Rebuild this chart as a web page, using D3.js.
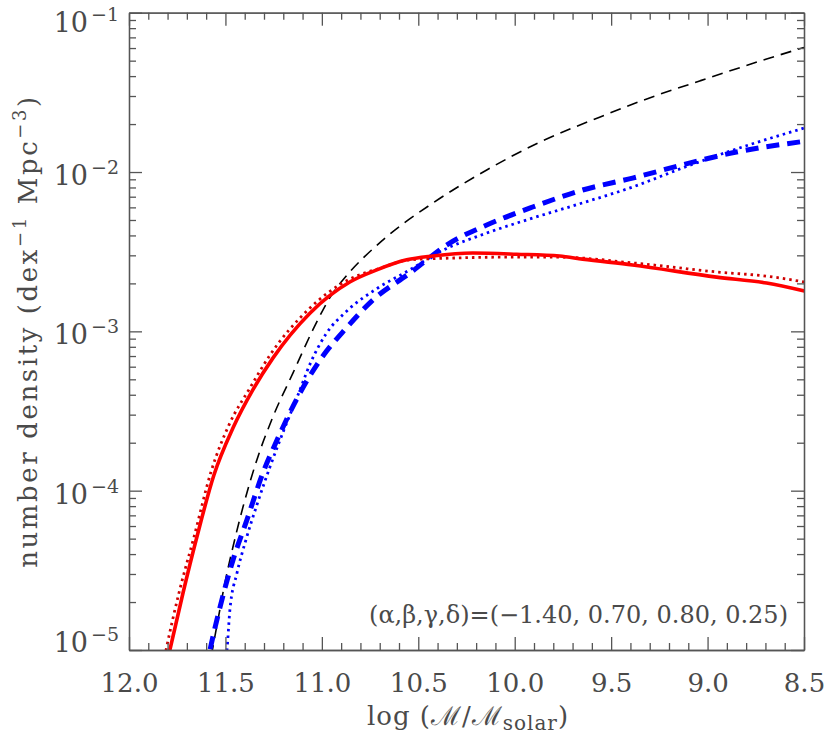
<!DOCTYPE html>
<html>
<head>
<meta charset="utf-8">
<script src="https://cdn.jsdelivr.net/npm/d3@7"></script>
<style>
  body { margin: 0; background: #fff; }
  svg text { font-family: "DejaVu Serif", serif; fill: #4a4a4a; }
</style>
</head>
<body>
<div id="chart"></div>
<script>
// stellar mass function curves
// x = log mass, y = number density (dex^-1 Mpc^-3)

const massBlack = [11.59, 11.539, 11.503, 11.461, 11.409, 11.337, 11.254, 11.150, 11.047, 10.943, 10.891, 10.684, 10.425, 10.145, 9.870, 9.560, 9.301, 9.041, 8.694, 8.50];
const densBlack = [7.1e-6, 1.54e-5, 2.63e-5, 4.43e-5, 7.89e-5, 1.56e-4, 2.90e-4, 5.47e-4, 1.02e-3, 1.74e-3, 2.10e-3, 3.74e-3, 6.38e-3, 1.03e-2, 1.54e-2, 2.21e-2, 2.92e-2, 3.73e-2, 5.12e-2, 6.05e-2];

const massRed = [11.811, 11.788, 11.720, 11.648, 11.560, 11.461, 11.358, 11.254, 11.062, 10.855, 10.715, 10.560, 10.425, 10.218, 9.990, 9.767, 9.648, 9.389, 8.953, 8.694, 8.497];
const densRed = [7.5e-6, 1.0e-5, 2.28e-5, 5.12e-5, 1.25e-4, 2.47e-4, 4.29e-4, 6.79e-4, 1.30e-3, 2.04e-3, 2.43e-3, 2.81e-3, 2.97e-3, 3.10e-3, 3.05e-3, 2.97e-3, 2.84e-3, 2.61e-3, 2.19e-3, 2.01e-3, 1.79e-3];

const massRedDot = [11.829, 11.808, 11.741, 11.663, 11.575, 11.482, 11.373, 11.269, 11.073, 10.865, 10.699, 10.544, 10.337, 10.078, 9.767, 9.389, 8.953, 8.694, 8.497];
const densRedDot = [7.5e-6, 1.0e-5, 2.28e-5, 5.12e-5, 1.31e-4, 2.58e-4, 4.41e-4, 7.10e-4, 1.36e-3, 2.10e-3, 2.49e-3, 2.81e-3, 2.88e-3, 2.92e-3, 2.92e-3, 2.69e-3, 2.36e-3, 2.22e-3, 2.04e-3];

const massBlueDash = [11.601, 11.580, 11.528, 11.461, 11.389, 11.306, 11.233, 11.114, 11.010, 10.870, 10.736, 10.544, 10.337, 10.145, 9.907, 9.648, 9.389, 9.130, 8.870, 8.497];
const densBlueDash = [7.5e-6, 1.0e-5, 1.86e-5, 3.66e-5, 6.53e-5, 1.29e-4, 2.07e-4, 4.09e-4, 6.59e-4, 1.06e-3, 1.57e-3, 2.32e-3, 3.58e-3, 4.65e-3, 6.03e-3, 7.71e-3, 9.16e-3, 1.11e-2, 1.32e-2, 1.56e-2];

const massBlueDot = [11.508, 11.492, 11.477, 11.440, 11.394, 11.337, 11.269, 11.197, 11.124, 11.057, 10.979, 10.865, 10.710, 10.544, 10.389, 10.145, 9.907, 9.648, 9.389, 9.130, 8.870, 8.497];
const densBlueDot = [7.48e-6, 1.0e-5, 1.78e-5, 3.04e-5, 4.90e-5, 8.13e-5, 1.41e-4, 2.40e-4, 3.98e-4, 6.41e-4, 9.61e-4, 1.36e-3, 1.87e-3, 2.43e-3, 3.15e-3, 4.14e-3, 5.14e-3, 6.40e-3, 8.05e-3, 1.06e-2, 1.37e-2, 1.89e-2];

const xMajor = [12.0, 11.5, 11.0, 10.5, 10.0, 9.5, 9.0, 8.5];
const yMajor = [1e-1, 1e-2, 1e-3, 1e-4, 1e-5];
const yExponents = ['\u22121', '\u22122', '\u22123', '\u22124', '\u22125'];
const paramText = '(\u03B1,\u03B2,\u03B3,\u03B4)=(\u22121.40, 0.70, 0.80, 0.25)';

const W = 830, H = 746;
const plotL = 129, plotR = 804, plotT = 12.7, plotB = 650;

const svg = d3.select('#chart').append('svg')
    .attr('width', W)
    .attr('height', H);

const x = d3.scaleLinear().domain([12, 8.5]).range([plotL, plotR]);
const y = d3.scaleLog().domain([1e-5, 1e-1]).range([plotB, plotT]);

// minor ticks
const xMinor = d3.range(0, 36).map(i => 12 - i * 0.1).filter(v => Math.abs(v * 2 - Math.round(v * 2)) > 1e-6);
const yMinor = [];
[-5, -4, -3, -2].forEach(e => {
    for (let k = 2; k <= 9; k++) yMinor.push(k * Math.pow(10, e));
});

// clip for the curves
svg.append('clipPath').attr('id', 'plot-clip')
    .append('rect')
    .attr('x', plotL).attr('y', plotT)
    .attr('width', plotR - plotL).attr('height', plotB - plotT);

const line = d3.line()
    .x(d => x(d[0]))
    .y(d => y(d[1]))
    .curve(d3.curveMonotoneX);

const series = [
    {mass: massBlack, dens: densBlack, color: '#000', width: 1.6, dash: '11,7'},
    {mass: massBlueDot, dens: densBlueDot, color: '#0000ff', width: 2.8, dash: '2.5,4'},
    {mass: massBlueDash, dens: densBlueDash, color: '#0000ff', width: 5, dash: '13,8'},
    {mass: massRedDot, dens: densRedDot, color: '#d00000', width: 2.8, dash: '2.5,4'},
    {mass: massRed, dens: densRed, color: '#ff0000', width: 3.6, dash: null}
];

const curves = svg.append('g').attr('clip-path', 'url(#plot-clip)');
series.forEach(s => {
    curves.append('path')
        .datum(s.mass.map((m, i) => [m, s.dens[i]]))
        .attr('d', line)
        .attr('fill', 'none')
        .attr('stroke', s.color)
        .attr('stroke-width', s.width)
        .attr('stroke-dasharray', s.dash);
});

// axes (ticks point inward)
function styleAxis(g) {
    g.selectAll('path, line').attr('stroke', '#555').attr('stroke-width', 1.3);
}

svg.append('g').attr('transform', `translate(0,${plotB})`)
    .call(d3.axisBottom(x).tickValues(xMinor).tickSize(-7).tickSizeOuter(0).tickFormat(''))
    .call(styleAxis);
svg.append('g').attr('transform', `translate(0,${plotB})`)
    .call(d3.axisBottom(x).tickValues(xMajor).tickSize(-13).tickSizeOuter(0)
        .tickPadding(24).tickFormat(d3.format('.1f')))
    .call(styleAxis)
    .call(g => g.selectAll('text').attr('font-size', 26).attr('fill', '#4a4a4a')
        .attr('font-family', '"DejaVu Serif", serif'));

svg.append('g').attr('transform', `translate(0,${plotT})`)
    .call(d3.axisTop(x).tickValues(xMinor).tickSize(-7).tickSizeOuter(0).tickFormat(''))
    .call(styleAxis);
svg.append('g').attr('transform', `translate(0,${plotT})`)
    .call(d3.axisTop(x).tickValues(xMajor).tickSize(-13).tickSizeOuter(0).tickFormat(''))
    .call(styleAxis);

svg.append('g').attr('transform', `translate(${plotL},0)`)
    .call(d3.axisLeft(y).tickValues(yMinor).tickSize(-7).tickSizeOuter(0).tickFormat(''))
    .call(styleAxis);
svg.append('g').attr('transform', `translate(${plotL},0)`)
    .call(d3.axisLeft(y).tickValues(yMajor).tickSize(-13).tickSizeOuter(0).tickFormat(''))
    .call(styleAxis);
svg.append('g').attr('transform', `translate(${plotR},0)`)
    .call(d3.axisRight(y).tickValues(yMinor).tickSize(-7).tickSizeOuter(0).tickFormat(''))
    .call(styleAxis);
svg.append('g').attr('transform', `translate(${plotR},0)`)
    .call(d3.axisRight(y).tickValues(yMajor).tickSize(-13).tickSizeOuter(0).tickFormat(''))
    .call(styleAxis);

// y tick labels 10^n, kept inside the axis range
const yLabels = svg.append('g');
yMajor.forEach((v, i) => {
    const base = Math.min(Math.max(y(v) + 13, 32), 652);
    const t = yLabels.append('text')
        .attr('x', 119)
        .attr('y', base)
        .attr('text-anchor', 'end')
        .attr('font-size', 27);
    t.append('tspan').text('10');
    t.append('tspan').attr('dy', -11).attr('dx', 3).attr('font-size', 19).text(yExponents[i]);
});

// x label
const xl = svg.append('text')
    .attr('x', 468)
    .attr('y', 725)
    .attr('text-anchor', 'middle')
    .attr('font-size', 26)
    .attr('letter-spacing', 1);
xl.append('tspan').text('log  (\u2133/\u2133');
xl.append('tspan').attr('font-size', 20).attr('dy', 5).text('solar');
xl.append('tspan').attr('dy', -5).text(')');

// y label
const yl = svg.append('text')
    .attr('transform', 'translate(37,331) rotate(-90)')
    .attr('text-anchor', 'middle')
    .attr('font-size', 26)
    .attr('letter-spacing', 2.6);
yl.append('tspan').text('number density (dex');
yl.append('tspan').attr('font-size', 18).attr('dy', -11).text('\u22121');
yl.append('tspan').attr('dy', 11).text(' Mpc');
yl.append('tspan').attr('font-size', 18).attr('dy', -11).text('\u22123');
yl.append('tspan').attr('dy', 11).text(')');

// parameter note
svg.append('text')
    .attr('x', 788)
    .attr('y', 623)
    .attr('text-anchor', 'end')
    .attr('font-size', 24)
    .text(paramText);
</script>
</body>
</html>
